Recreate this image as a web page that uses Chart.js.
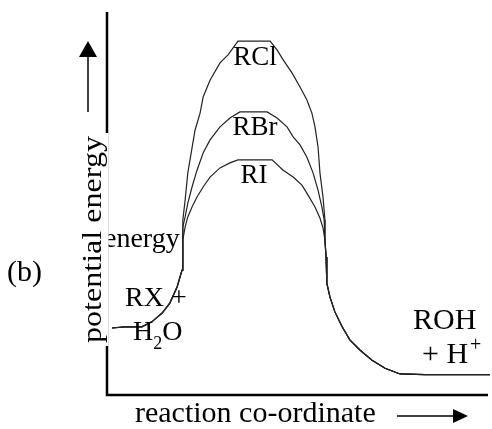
<!DOCTYPE html>
<html>
<head>
<meta charset="utf-8">
<script src="https://cdn.jsdelivr.net/npm/chart.js@4.4.1/dist/chart.umd.min.js"></script>
<style>
    body { margin: 0; background: #fff; }
    canvas { display: block; }
</style>
</head>
<body>
<canvas id="energyChart" width="492" height="429"></canvas>
<script>
// reaction coordinate (0-100) and potential energy (0-100)

// shared start: RX + H2O climbing towards the barrier
const reactX = [1.3, 4.7, 6.8, 9.1, 11.7, 14.4, 16.4, 18.3, 19.6, 19.8, 19.8];
const reactY = [17.5, 17.8, 17.8, 17.8, 19.1, 21.4, 24.0, 28.2, 32.6, 36.6, 40.5];

// barrier tops
const rclX = [19.8, 20.4, 21.1, 22.2, 23.0, 24.3, 25.1, 26.9, 29.5, 31.6, 34.2, 42.6, 44.4, 46.0, 48.3, 50.4, 52.2, 53.5, 54.3, 55.1, 55.6, 56.4, 56.9];
const rclY = [45.7, 50.9, 58.0, 64.5, 69.2, 73.6, 77.8, 82.2, 86.7, 88.8, 92.4, 92.4, 90.1, 87.5, 84.1, 80.4, 77.0, 73.6, 70.0, 64.8, 58.0, 51.7, 45.7];

const rbrX = [19.8, 20.4, 21.1, 22.2, 23.5, 25.1, 26.9, 29.5, 32.1, 34.7, 41.8, 44.4, 47.0, 48.6, 50.4, 52.2, 53.8, 55.1, 56.1, 56.7];
const rbrY = [43.9, 46.5, 50.1, 54.3, 58.7, 63.2, 66.6, 70.0, 72.3, 73.9, 73.9, 72.3, 70.0, 67.4, 65.3, 62.1, 58.0, 53.5, 49.1, 45.7];

const riX = [20.4, 21.1, 22.2, 23.5, 25.1, 26.9, 29.5, 32.1, 34.2, 43.1, 46.0, 48.6, 50.9, 52.5, 54.3, 55.6, 56.4];
const riY = [43.9, 46.5, 49.1, 51.7, 54.3, 56.9, 59.3, 60.6, 61.4, 61.4, 58.7, 56.9, 54.8, 52.2, 49.1, 46.2, 43.6];

// shared end: dropping down to ROH + H+
const prodX = [56.9, 57.2, 57.4, 58.2, 59.5, 61.4, 63.4, 66.1, 69.2, 72.6, 76.5, 83.0, 100];
const prodY = [40.5, 36.0, 29.2, 25.6, 21.7, 17.8, 14.4, 11.7, 9.1, 7.0, 5.5, 5.3, 5.3];

const seriesNames = ['RCl', 'RBr', 'RI'];

function buildPath(peakX, peakY) {
    const xs = reactX.concat(peakX, prodX);
    const ys = reactY.concat(peakY, prodY);
    return xs.map((x, i) => ({ x: x, y: ys[i] }));
}

const paths = [buildPath(rclX, rclY), buildPath(rbrX, rbrY), buildPath(riX, riY)];

const SERIF = '"Liberation Serif", "DejaVu Serif", serif';

// axes, arrows and all the text labels
const decorations = {
    id: 'decorations',
    afterDraw(chart) {
        const ctx = chart.ctx;
        const area = chart.chartArea;
        ctx.save();

        // axes
        ctx.strokeStyle = '#000';
        ctx.lineWidth = 2.5;
        ctx.beginPath();
        ctx.moveTo(area.left, area.top);
        ctx.lineTo(area.left, area.bottom);
        ctx.lineTo(area.right - 2, area.bottom);
        ctx.stroke();

        ctx.fillStyle = '#000';
        ctx.textBaseline = 'alphabetic';

        // curve labels
        ctx.font = '27px ' + SERIF;
        ctx.textAlign = 'center';
        ctx.fillText('RCl', 255, 65);
        ctx.fillText('RBr', 255, 135);
        ctx.fillText('RI', 254, 183);

        ctx.font = '28px ' + SERIF;
        ctx.textAlign = 'left';
        ctx.fillText('energy', 104, 247);
        ctx.fillText('RX +', 125, 306);
        ctx.fillText('H', 133, 340);
        let w = ctx.measureText('H').width;
        ctx.font = '18px ' + SERIF;
        ctx.fillText('2', 133 + w, 349);
        let w2 = ctx.measureText('2').width;
        ctx.font = '28px ' + SERIF;
        ctx.fillText('O', 133 + w + w2, 340);

        ctx.font = '30px ' + SERIF;
        ctx.fillText('ROH', 413, 329);
        ctx.fillText('+ H', 422, 363);
        w = ctx.measureText('+ H').width;
        ctx.font = '20px ' + SERIF;
        ctx.fillText('+', 422 + w + 2, 351);

        ctx.font = '30px ' + SERIF;
        ctx.fillText('(b)', 7, 281);
        ctx.fillText('reaction co-ordinate', 135, 422);

        // arrow along the x axis title
        ctx.lineWidth = 1.5;
        ctx.beginPath();
        ctx.moveTo(397, 416);
        ctx.lineTo(455, 416);
        ctx.stroke();
        ctx.beginPath();
        ctx.moveTo(468, 416);
        ctx.lineTo(453, 409);
        ctx.lineTo(453, 423);
        ctx.closePath();
        ctx.fill();

        // upward arrow beside the y axis
        ctx.beginPath();
        ctx.moveTo(88, 112);
        ctx.lineTo(88, 55);
        ctx.stroke();
        ctx.beginPath();
        ctx.moveTo(88, 41);
        ctx.lineTo(79, 57);
        ctx.lineTo(97, 57);
        ctx.closePath();
        ctx.fill();

        // y axis title sits on a white patch over the axis line
        ctx.fillStyle = '#fff';
        ctx.fillRect(74, 133, 34.5, 213);
        ctx.fillStyle = '#000';
        ctx.translate(101, 343);
        ctx.rotate(-Math.PI / 2);
        ctx.font = '28px ' + SERIF;
        const label = 'potential energy';
        const lw = ctx.measureText(label).width;
        ctx.scale(207 / lw, 1);
        ctx.fillText(label, 0, 0);

        ctx.restore();
    }
};

new Chart(document.getElementById('energyChart'), {
    type: 'line',
    data: {
        datasets: seriesNames.map((name, i) => ({
            label: name,
            data: paths[i],
            borderColor: '#222',
            borderWidth: 1.2,
            pointRadius: 0,
            tension: 0,
            fill: false
        }))
    },
    options: {
        responsive: false,
        animation: false,
        layout: { padding: { left: 107, right: 2, top: 12, bottom: 34 } },
        scales: {
            x: { type: 'linear', min: 0, max: 100, display: false },
            y: { type: 'linear', min: 0, max: 100, display: false }
        },
        plugins: {
            legend: { display: false },
            tooltip: { enabled: false }
        }
    },
    plugins: [decorations]
});
</script>
</body>
</html>
